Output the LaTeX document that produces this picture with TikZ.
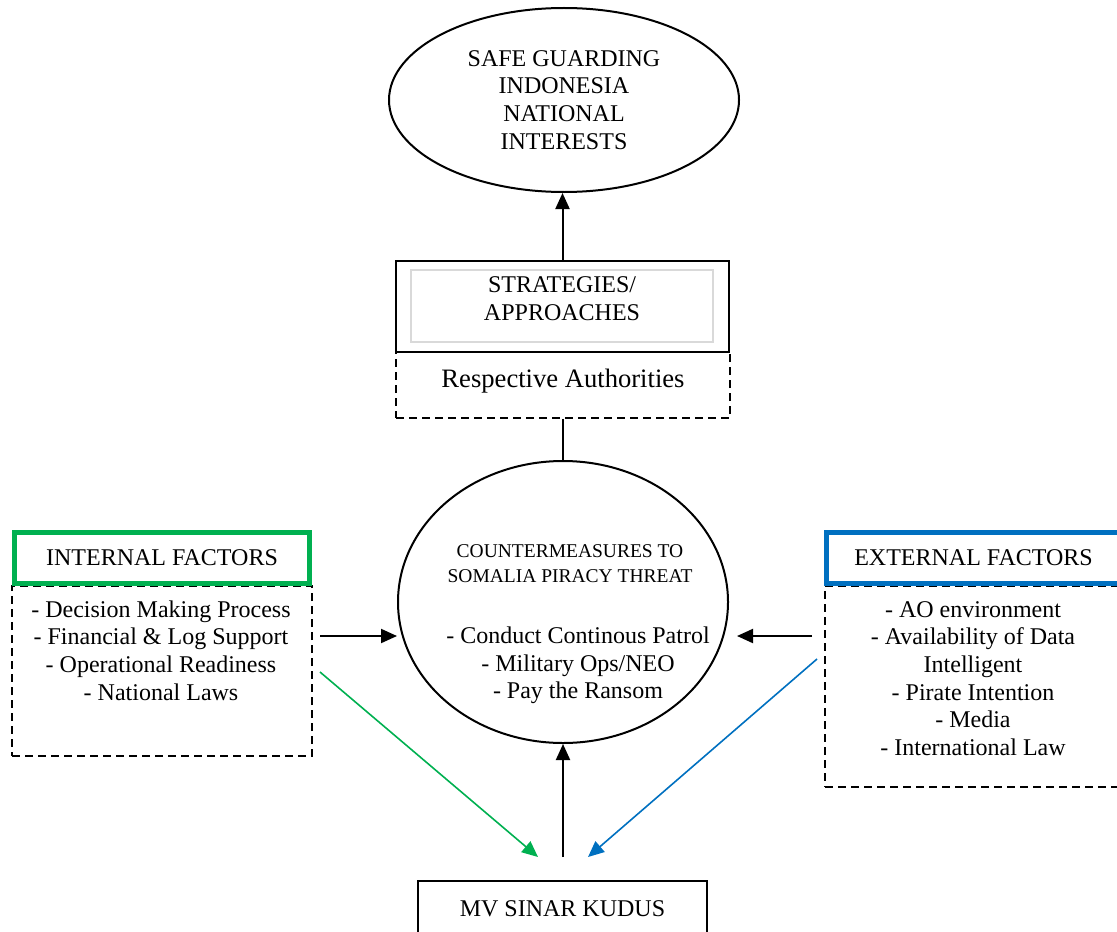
\documentclass[tikz,border=0pt]{standalone}
\usepackage{fontspec}
\setmainfont{Liberation Serif}
\usetikzlibrary{shapes.geometric,arrows.meta}
\definecolor{igreen}{HTML}{00B050}
\definecolor{eblue}{HTML}{0070C0}
\begin{document}
\begin{tikzpicture}[x=0.5pt,y=-0.5pt,
  txt/.style={font=\fontsize{12}{13.85}\selectfont, align=center, inner sep=0pt},
  ell/.style={ellipse, draw, line width=1pt, inner sep=0pt},
  box/.style={rectangle, draw, line width=1pt, inner sep=0pt},
  dbox/.style={rectangle, draw, line width=0.8pt, dash pattern=on 4pt off 2.5pt, inner sep=0pt},
  arr/.style={-{Triangle[length=8pt,width=7pt]}, line width=1pt},
  carr/.style={-{Triangle[length=8pt,width=7pt]}, line width=0.8pt}
]
\useasboundingbox (0,0) rectangle (1117,931);
\clip (0,0) rectangle (1117,931);

% top goal
\node[ell, minimum width=175pt, minimum height=92pt] (goal) at (564,100) {};
\node[txt] (goaltxt) at (564,100) {SAFE GUARDING\\INDONESIA\\NATIONAL\\INTERESTS};

% strategies + authorities
\node[dbox, minimum width=167pt, minimum height=33pt] (auth) at (563,385) {};
\node[txt, font=\fontsize{13.3}{16}\selectfont] (authtxt) at (563,381) {Respective Authorities};
\node[box, fill=white, minimum width=166.5pt, minimum height=45.5pt] (strat) at (562.5,306.5) {};
\node[rectangle, draw=black!15, line width=0.6pt, inner sep=0pt, minimum width=151pt, minimum height=36pt] (stratin) at (562,306) {};
\node[txt] (strattxt) at (562,299) {STRATEGIES/\\APPROACHES};

% countermeasures
\node[ell, minimum width=165pt, minimum height=141pt] (cm) at (563,602) {};
\node[txt, font=\fontsize{9.75}{12.5}\selectfont] (cmtitle) at (570,563.5) {COUNTERMEASURES TO\\SOMALIA PIRACY THREAT};
\node[txt] (cmitems) at (578,665.5) {- Conduct Continous Patrol\\- Military Ops/NEO\\- Pay the Ransom};

% internal factors
\node[dbox, minimum width=150pt, minimum height=85pt] (intd) at (162,671) {};
\node[box, draw=igreen, line width=2.5pt, fill=white, minimum width=147.5pt, minimum height=25.5pt] (int) at (162,558) {};
\node[txt] (inttxt) at (162,558) {INTERNAL FACTORS};
\node[txt] (intitems) at (161,650.5) {- Decision Making Process\\- Financial \& Log Support\\- Operational Readiness\\- National Laws};

% external factors
\node[dbox, minimum width=150pt, minimum height=100.5pt] (extd) at (975,686.5) {};
\node[box, draw=eblue, line width=2.5pt, fill=white, minimum width=149.25pt, minimum height=25.5pt] (ext) at (975.75,558) {};
\node[txt] (exttxt) at (973.5,558) {EXTERNAL FACTORS};
\node[txt] (extitems) at (973,678.5) {- AO environment\\- Availability of Data\\Intelligent\\- Pirate Intention\\- Media\\- International Law};

% MV Sinar Kudus
\node[box, minimum width=144.5pt, minimum height=30pt] (mv) at (562.5,911) {};
\node[txt] (mvtxt) at (562.5,909) {MV SINAR KUDUS};

% coordinates for free ends
\coordinate (inA) at (320,636);
\coordinate (inB) at (397,636);
\coordinate (exA) at (812,636);
\coordinate (exB) at (737,636);
\coordinate (gA) at (320,672);
\coordinate (gB) at (538,857);
\coordinate (bA) at (817,659);
\coordinate (bB) at (588,857);
\coordinate (mA) at (563,857);

% connectors
\draw[arr] (strat.north) -- (strat.north |- goal.south);
\draw[line width=1pt] (auth.south) -- (cm.north);
\draw[arr] (inA) -- (inB);
\draw[arr] (exA) -- (exB);
\draw[arr] (mA) -- (cm.south);
\draw[carr, draw=igreen, fill=igreen] (gA) -- (gB);
\draw[carr, draw=eblue, fill=eblue] (bA) -- (bB);
\end{tikzpicture}
\end{document}
